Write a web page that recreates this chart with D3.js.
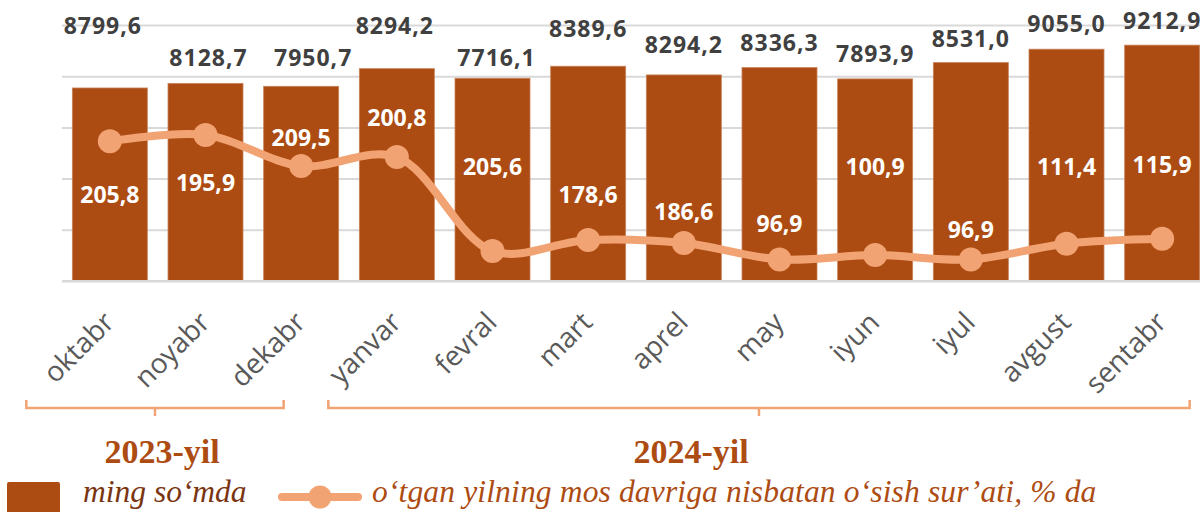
<!DOCTYPE html>
<html>
<head>
<meta charset="utf-8">
<script src="https://cdn.jsdelivr.net/npm/d3@7"></script>
<style>
  html, body { margin: 0; padding: 0; background: #fff; }
  svg { display: block; }
</style>
</head>
<body>
<div id="chart"></div>
<script>
// months on the x axis
const months = ["oktabr", "noyabr", "dekabr", "yanvar", "fevral", "mart",
  "aprel", "may", "iyun", "iyul", "avgust", "sentabr"];

// bar heights as drawn (ming so'mda) and the printed labels
const barValues = [7540, 7720, 7605, 8294.2, 7920, 8389.6, 8050, 8336.3, 7893.9, 8531.0, 9055.0, 9212.9];
const barLabels = ["8799,6", "8128,7", "7950,7", "8294,2", "7716,1", "8389,6",
  "8294,2", "8336,3", "7893,9", "8531,0", "9055,0", "9212,9"];

// growth line (secondary axis) as drawn and the printed labels
const growthValues = [205.8, 211.6, 183.0, 191.3, 104.6, 114.8, 112.0, 96.9, 100.9, 96.9, 111.4, 115.9];
const growthLabels = ["205,8", "195,9", "209,5", "200,8", "205,6", "178,6",
  "186,6", "96,9", "100,9", "96,9", "111,4", "115,9"];

const yTicks = [0, 2000, 4000, 6000, 8000, 10000];

const years = ["2023-yil", "2024-yil"];
const yearFirst = [0, 3]; // index of first month in group
const yearLast = [2, 11];

const legendLabels = ["ming so\u2018mda", "o\u2018tgan yilning mos davriga nisbatan o\u2018sish sur\u2019ati, % da"];

// manual label nudges (like dragged labels in the original)
const barLabelExtra = [37, 0, 3, 18, -5, 12, 5, 0, 0, -1, 0, -1];
const barLabelDx = [-7, 3, 12, -2, 4, 0, 0, 0, 0, 0, 0, 0];
const growthLabelDy = [53, 47, -29, -40, -85, -46, -32, -36, -89, -30, -78, -75];
const bracketPad = [[-46, -55], [-31, -10]];
const yearLabelShift = [7, -68];

const W = 1200, H = 512;
const BAR = "#AD4C12", LINE = "#F2A373", GRID = "#D9D9D9";

const svg = d3.select("#chart").append("svg")
  .attr("width", W)
  .attr("height", H);

const x = d3.scaleBand()
  .domain(months)
  .range([62, 1210])
  .paddingInner(0.216)
  .paddingOuter(0.108);

const y = d3.scaleLinear().domain([0, 10000]).range([281, 25]);
const y2 = d3.scaleLinear().domain([77, 313]).range([281, 25]);

// gridlines
svg.append("g")
  .attr("transform", "translate(62,0)")
  .call(d3.axisLeft(y).tickValues(yTicks).tickSize(-(W - 62)).tickFormat(""))
  .call(g => g.select(".domain").remove())
  .call(g => g.selectAll("line").attr("stroke", GRID).attr("stroke-width", 2));

// bars
svg.append("g").selectAll("rect")
  .data(months)
  .join("rect")
  .attr("x", d => x(d))
  .attr("y", (d, i) => y(barValues[i]))
  .attr("width", x.bandwidth())
  .attr("height", (d, i) => y(0) - y(barValues[i]))
  .attr("fill", BAR)
  .attr("stroke", "#C7835A")
  .attr("stroke-width", 0.8);

// bar value labels
svg.append("g").selectAll("text")
  .data(months)
  .join("text")
  .attr("x", (d, i) => x(d) + x.bandwidth() / 2 + barLabelDx[i])
  .attr("y", (d, i) => y(barValues[i]) - 26 - barLabelExtra[i])
  .attr("text-anchor", "middle")
  .attr("dominant-baseline", "central")
  .attr("font-family", "'Open Sans', sans-serif")
  .attr("font-weight", "bold")
  .attr("font-size", 23)
  .attr("letter-spacing", 1)
  .attr("fill", "#404040")
  .text((d, i) => barLabels[i]);

// growth line
const cx = d => x(d) + x.bandwidth() / 2;
const line = d3.line()
  .x(d => cx(d))
  .y((d, i) => y2(growthValues[i]))
  .curve(d3.curveCatmullRom.alpha(0.5));

svg.append("path")
  .datum(months)
  .attr("d", line)
  .attr("fill", "none")
  .attr("stroke", LINE)
  .attr("stroke-width", 8)
  .attr("stroke-linecap", "round");

svg.append("g").selectAll("circle")
  .data(months)
  .join("circle")
  .attr("cx", d => cx(d))
  .attr("cy", (d, i) => y2(growthValues[i]))
  .attr("r", 12)
  .attr("fill", LINE);

svg.append("g").selectAll("text")
  .data(months)
  .join("text")
  .attr("x", d => cx(d))
  .attr("y", (d, i) => y2(growthValues[i]) + growthLabelDy[i])
  .attr("text-anchor", "middle")
  .attr("dominant-baseline", "central")
  .attr("font-family", "'Open Sans', sans-serif")
  .attr("font-weight", "bold")
  .attr("font-size", 23)
  .attr("fill", "#fff")
  .text((d, i) => growthLabels[i]);

// x axis (base line + rotated labels)
const xAxis = svg.append("g")
  .attr("transform", "translate(0,281)")
  .call(d3.axisBottom(x).tickSize(0).tickPadding(0));
xAxis.select(".domain").attr("stroke", GRID).attr("stroke-width", 2).attr("d", "M62,0H1200");
xAxis.selectAll("text")
  .attr("font-family", "'Open Sans', sans-serif")
  .attr("font-size", 28)
  .attr("fill", "#595959")
  .attr("text-anchor", "end")
  .attr("dy", null)
  .attr("transform", "translate(6,43) rotate(-45)");

// year brackets
years.forEach((yr, k) => {
  const x0 = x(months[yearFirst[k]]) + bracketPad[k][0];
  const x1 = x(months[yearLast[k]]) + x.bandwidth() + bracketPad[k][1];
  const mid = (x0 + x1) / 2;
  svg.append("path")
    .attr("d", `M${x0},400 V408 H${mid} V416 M${mid},408 H${x1} V400`)
    .attr("fill", "none")
    .attr("stroke", LINE)
    .attr("stroke-width", 2.5);
  svg.append("text")
    .attr("x", mid + yearLabelShift[k])
    .attr("y", 463)
    .attr("text-anchor", "middle")
    .attr("font-family", "'Liberation Serif', serif")
    .attr("font-weight", "bold")
    .attr("font-size", 34)
    .attr("fill", BAR)
    .text(yr);
});

// legend
const lg = svg.append("g");
lg.append("rect")
  .attr("x", 7).attr("y", 482).attr("width", 53).attr("height", 40)
  .attr("rx", 2).attr("fill", BAR);
lg.append("text")
  .attr("x", 83).attr("y", 502)
  .attr("font-family", "'Liberation Serif', serif")
  .attr("font-style", "italic")
  .attr("font-size", 31.5)
  .attr("fill", "#7A3510")
  .text(legendLabels[0]);
lg.append("line")
  .attr("x1", 282).attr("x2", 358).attr("y1", 497).attr("y2", 497)
  .attr("stroke", LINE).attr("stroke-width", 8).attr("stroke-linecap", "round");
lg.append("circle")
  .attr("cx", 320).attr("cy", 497).attr("r", 11.5).attr("fill", LINE);
lg.append("text")
  .attr("x", 372).attr("y", 502)
  .attr("font-family", "'Liberation Serif', serif")
  .attr("font-style", "italic")
  .attr("font-size", 31.5)
  .attr("letter-spacing", 0.15)
  .attr("fill", BAR)
  .text(legendLabels[1]);
</script>
</body>
</html>
